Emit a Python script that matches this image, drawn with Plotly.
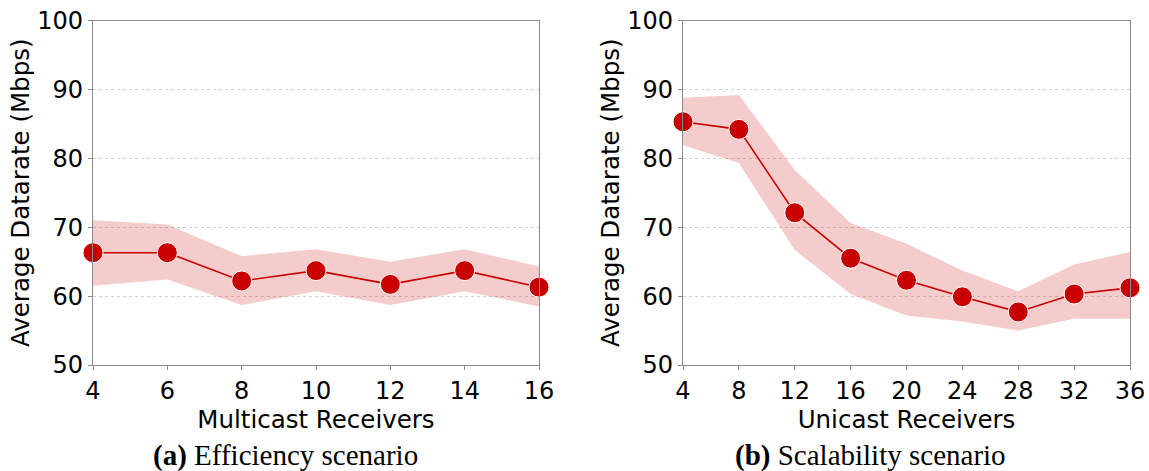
import plotly.graph_objects as go

# Panel (a): Efficiency scenario
multicast_receivers = [4, 6, 8, 10, 12, 14, 16]
multicast_mean = [66.3, 66.3, 62.2, 63.7, 61.7, 63.7, 61.3]
multicast_upper = [71.0, 70.4, 65.8, 66.8, 65.0, 66.8, 64.3]
multicast_lower = [61.5, 62.4, 58.7, 60.7, 58.7, 60.7, 58.5]

# Panel (b): Scalability scenario
unicast_receivers = [4, 8, 12, 16, 20, 24, 28, 32, 36]
unicast_mean = [85.3, 84.2, 72.1, 65.5, 62.3, 59.9, 57.7, 60.3, 61.2]
unicast_upper = [88.8, 89.2, 78.3, 70.6, 67.6, 63.7, 60.7, 64.6, 66.4]
unicast_lower = [81.9, 79.3, 66.7, 60.3, 57.2, 56.3, 55.0, 56.7, 56.7]

y_ticks = [50, 60, 70, 80, 90, 100]
captions = [("(a)", "Efficiency scenario"), ("(b)", "Scalability scenario")]
x_titles = ["Multicast Receivers", "Unicast Receivers"]
y_title = "Average Datarate (Mbps)"

LINE = "rgb(200,0,0)"
BAND = "rgba(214,40,40,0.24)"
W, H = 1149, 471

fig = go.Figure()

panels = [
    (multicast_receivers, multicast_mean, multicast_upper, multicast_lower, "x", "y"),
    (unicast_receivers, unicast_mean, unicast_upper, unicast_lower, "x2", "y2"),
]
for xs, m, up, lo, xa, ya in panels:
    fig.add_trace(go.Scatter(x=xs, y=up, mode="lines", line=dict(width=0),
                             hoverinfo="skip", showlegend=False, xaxis=xa, yaxis=ya))
    fig.add_trace(go.Scatter(x=xs, y=lo, mode="lines", line=dict(width=0),
                             fill="tonexty", fillcolor=BAND,
                             hoverinfo="skip", showlegend=False, xaxis=xa, yaxis=ya))
    fig.add_trace(go.Scatter(x=xs, y=m, mode="lines+markers",
                             line=dict(color=LINE, width=1.6),
                             marker=dict(color=LINE, size=20, line=dict(color="white", width=1)),
                             cliponaxis=False, showlegend=False, xaxis=xa, yaxis=ya))

axis_common = dict(
    showline=True, linecolor="#8a8a8a", linewidth=1.3, mirror=True,
    ticks="outside", ticklen=4, tickcolor="#8a8a8a", tickwidth=1,
    tickfont=dict(family="DejaVu Sans", size=24, color="black"),
    zeroline=False, automargin=False,
)
tf = dict(family="DejaVu Sans", size=24.5, color="black")

xd1 = [93 / W, 539 / W]
xd2 = [683 / W, 1130 / W]
yd = [1 - 365 / H, 1 - 20.5 / H]

fig.update_layout(
    width=W, height=H,
    margin=dict(l=0, r=0, t=0, b=0, autoexpand=False),
    paper_bgcolor="white", plot_bgcolor="white",
    xaxis=dict(domain=xd1, range=[4, 16], tickvals=multicast_receivers, showgrid=False,
               anchor="y", title=dict(text=x_titles[0], font=tf, standoff=0), **axis_common),
    yaxis=dict(domain=yd, range=[50, 100], tickvals=y_ticks, anchor="x",
               showgrid=True, gridcolor="#cfcfcf", griddash="dot", gridwidth=1,
               title=dict(text=y_title, font=tf, standoff=0), **axis_common),
    xaxis2=dict(domain=xd2, range=[4, 36], tickvals=unicast_receivers, showgrid=False,
                anchor="y2", title=dict(text=x_titles[1], font=tf, standoff=0), **axis_common),
    yaxis2=dict(domain=yd, range=[50, 100], tickvals=y_ticks, anchor="x2",
                showgrid=True, gridcolor="#cfcfcf", griddash="dot", gridwidth=1,
                title=dict(text=y_title, font=tf, standoff=0), **axis_common),
)

cap_x = [285 / W, 870 / W]
for (lab, txt), cx in zip(captions, cap_x):
    fig.add_annotation(
        x=cx, y=1 - 455 / H, xref="paper", yref="paper", showarrow=False,
        text=f"<b>{lab}</b> {txt}",
        font=dict(family="Liberation Serif", size=29, color="black"),
        xanchor="center", yanchor="middle",
    )

fig.write_html(
    "out.html",
    config={"displayModeBar": False},
    post_script="document.body.style.margin='0';document.body.style.overflow='hidden';",
)
